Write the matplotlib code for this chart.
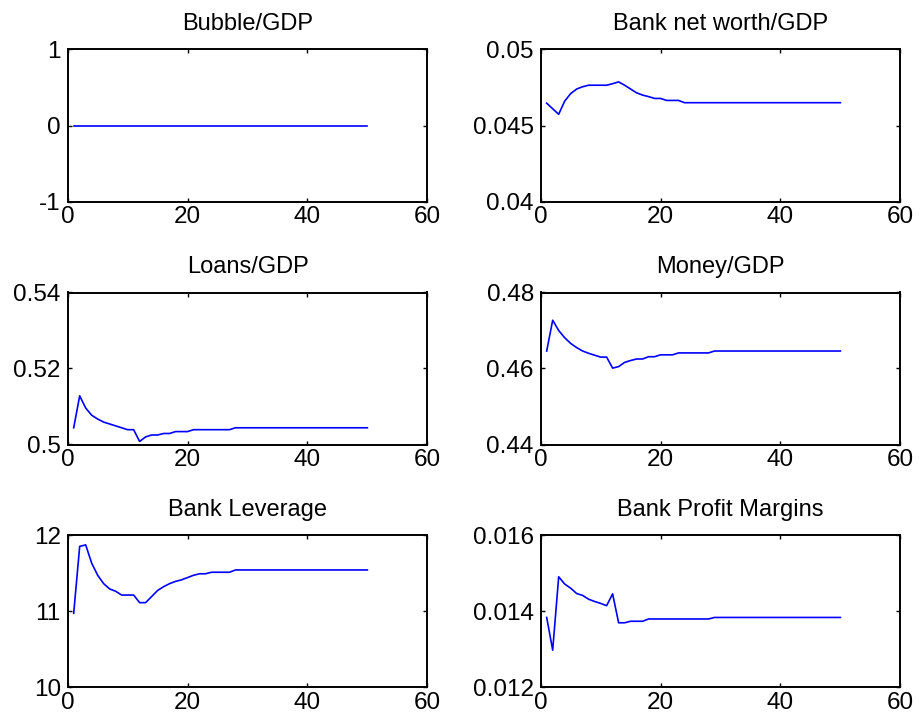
import matplotlib
matplotlib.use("Agg")
import matplotlib.pyplot as plt
import numpy as np

plt.rcParams['font.family'] = ['Liberation Sans', 'DejaVu Sans']

periods = list(range(1, 51))

bubble_gdp = [0.0] * 50

net_worth_gdp = ([0.04647, 0.0461, 0.04574, 0.0466, 0.0471, 0.0474, 0.04755, 0.04765,
                  0.04765, 0.04765, 0.04765, 0.04775, 0.04787, 0.04765, 0.0474, 0.04715,
                  0.047, 0.0469, 0.04678, 0.04678, 0.04665, 0.04665, 0.04665]
                 + [0.0465] * 27)

loans_gdp = ([0.5044, 0.5128, 0.5096, 0.5077, 0.5067, 0.5059, 0.5054, 0.5049, 0.5044,
              0.5039, 0.5039, 0.5008, 0.5020, 0.5025, 0.5025, 0.5029, 0.5029, 0.5034,
              0.5034, 0.5034]
             + [0.5039] * 7 + [0.5044] * 23)

money_gdp = ([0.4646, 0.4727, 0.4700, 0.4681, 0.4666, 0.4655, 0.4646, 0.4640, 0.4635,
              0.4630, 0.4630, 0.4601, 0.4605, 0.4616, 0.4621, 0.4625, 0.4625, 0.4631,
              0.4631, 0.4636, 0.4636, 0.4636]
             + [0.4641] * 6 + [0.4646] * 22)

bank_leverage = ([10.97, 11.85, 11.87, 11.63, 11.47, 11.36, 11.29, 11.26, 11.21, 11.21,
                  11.21, 11.11, 11.11, 11.19, 11.27, 11.32, 11.36, 11.39, 11.41, 11.44,
                  11.47, 11.49, 11.49]
                 + [11.51] * 4 + [11.54] * 23)

profit_margins = ([0.01383, 0.01297, 0.0149, 0.01471, 0.0146, 0.01446, 0.01441, 0.01431,
                   0.01425, 0.0142, 0.01414, 0.01445, 0.01369, 0.01369]
                  + [0.01373] * 3 + [0.01379] * 11 + [0.01383] * 22)

titles = ["Bubble/GDP", "Bank net worth/GDP", "Loans/GDP", "Money/GDP",
          "Bank Leverage", "Bank Profit Margins"]
series = [bubble_gdp, net_worth_gdp, loans_gdp, money_gdp, bank_leverage, profit_margins]
yticks = [[-1, 0, 1], [0.04, 0.045, 0.05], [0.5, 0.52, 0.54], [0.44, 0.46, 0.48],
          [10, 11, 12], [0.012, 0.014, 0.016]]
ytick_labels = [["-1", "0", "1"], ["0.04", "0.045", "0.05"], ["0.5", "0.52", "0.54"],
                ["0.44", "0.46", "0.48"], ["10", "11", "12"], ["0.012", "0.014", "0.016"]]
xticks = [0, 20, 40, 60]

W, H = 922, 725
fig = plt.figure(figsize=(W / 100, H / 100), dpi=100)

col_left = [67.7, 540.7]
col_width = 359.6
row_top = [49.5, 292.5, 535]
row_height = 152

for i in range(6):
    r, c = divmod(i, 2)
    x0 = col_left[c]
    y0 = row_top[r]
    ax = fig.add_axes([x0 / W, 1 - (y0 + row_height) / H, col_width / W, row_height / H])
    ax.plot(periods, series[i], color=(0, 0, 1), lw=1.2)
    ax.set_xlim(0, 60)
    ax.set_ylim(yticks[i][0], yticks[i][-1])
    ax.set_xticks(xticks)
    ax.set_xticklabels([str(v) for v in xticks])
    ax.set_yticks(yticks[i])
    ax.set_yticklabels(ytick_labels[i])
    ax.tick_params(direction='in', top=True, right=True, length=3, width=1,
                   labelsize=17.5, color='black')
    ax.tick_params(axis='x', pad=3.5)
    ax.tick_params(axis='y', pad=5)
    for s in ax.spines.values():
        s.set_linewidth(1.4)
        s.set_color('black')
    ax.set_title(titles[i], fontsize=17, pad=14)

fig.savefig("out.png", dpi=100)
